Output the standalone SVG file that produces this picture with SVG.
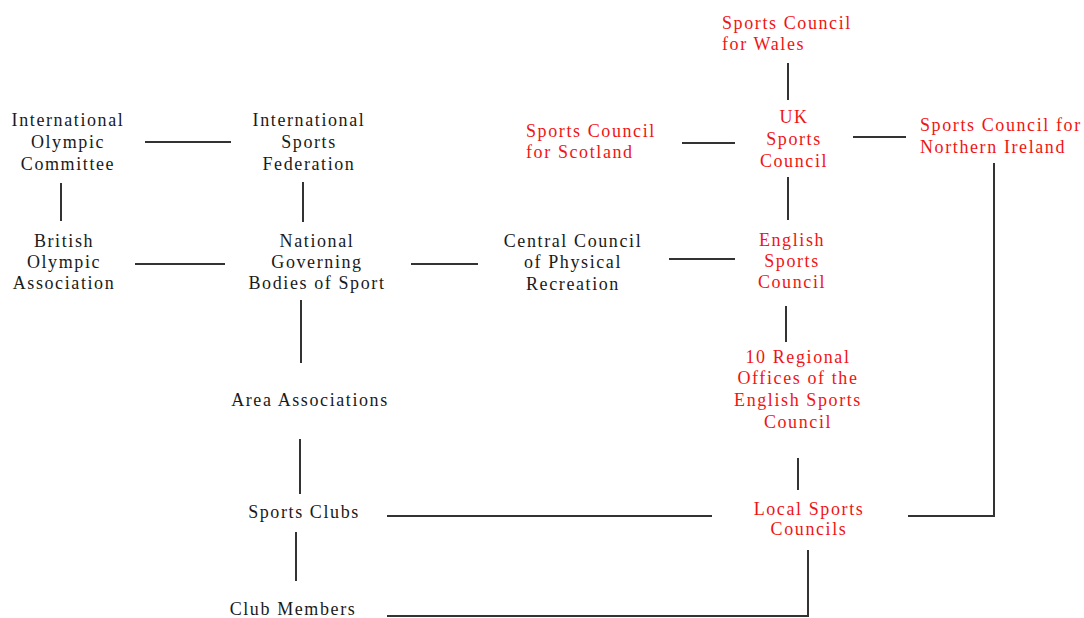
<svg xmlns="http://www.w3.org/2000/svg" width="1084" height="618" viewBox="0 0 1084 618">
<style>
text{font-family:"Liberation Serif","Times New Roman",serif;font-size:18px;letter-spacing:1.6px;fill:#1a1a1a}
.c{text-anchor:middle}
.r{fill:#f01414}
#connectors path{fill:none;stroke:#333;stroke-width:2}
</style>
<rect width="1084" height="618" fill="#fff"/>
<g id="connectors">
<path d="M145 142H231"/>
<path d="M61 183V221"/>
<path d="M303 182V222"/>
<path d="M135 264H225"/>
<path d="M411 264H478"/>
<path d="M669 259H735"/>
<path d="M788 63V100"/>
<path d="M682 143H735"/>
<path d="M853 137H906"/>
<path d="M788 177V220"/>
<path d="M786 306V342"/>
<path d="M301 300V363"/>
<path d="M798 458V490"/>
<path d="M300 439V494"/>
<path d="M387 516H712"/>
<path d="M994 163V516H908"/>
<path d="M296 532V581"/>
<path d="M387 616H808V550"/>
</g>
<g id="ioc"><text class="c" x="68" y="126">International</text><text class="c" x="68" y="148">Olympic</text><text class="c" x="68" y="170">Committee</text></g>
<g id="isf"><text class="c" x="309" y="126">International</text><text class="c" x="309" y="148">Sports</text><text class="c" x="309" y="170">Federation</text></g>
<g id="boa"><text class="c" x="64" y="247">British</text><text class="c" x="64" y="268">Olympic</text><text class="c" x="64" y="289">Association</text></g>
<g id="ngb"><text class="c" x="317" y="247">National</text><text class="c" x="317" y="268">Governing</text><text class="c" x="317" y="289">Bodies of Sport</text></g>
<g id="ccpr"><text class="c" x="573" y="247">Central Council</text><text class="c" x="573" y="268">of Physical</text><text class="c" x="573" y="290">Recreation</text></g>
<g id="wales"><text class="r" x="722" y="29">Sports Council</text><text class="r" x="722" y="50">for Wales</text></g>
<g id="scotland"><text class="r" x="526" y="137">Sports Council</text><text class="r" x="526" y="158">for Scotland</text></g>
<g id="uk"><text class="c r" x="794" y="123">UK</text><text class="c r" x="794" y="145">Sports</text><text class="c r" x="794" y="167">Council</text></g>
<g id="ni"><text class="r" x="920" y="131">Sports Council for</text><text class="r" x="920" y="153">Northern Ireland</text></g>
<g id="english"><text class="c r" x="792" y="246">English</text><text class="c r" x="792" y="267">Sports</text><text class="c r" x="792" y="288">Council</text></g>
<g id="regional"><text class="c r" x="798" y="363">10 Regional</text><text class="c r" x="798" y="384">Offices of the</text><text class="c r" x="798" y="406">English Sports</text><text class="c r" x="798" y="428">Council</text></g>
<g id="area"><text class="c" x="310" y="406">Area Associations</text></g>
<g id="local"><text class="c r" x="809" y="515">Local Sports</text><text class="c r" x="809" y="535">Councils</text></g>
<g id="clubs"><text class="c" x="304" y="518">Sports Clubs</text></g>
<g id="members"><text class="c" x="293" y="615">Club Members</text></g>
</svg>
